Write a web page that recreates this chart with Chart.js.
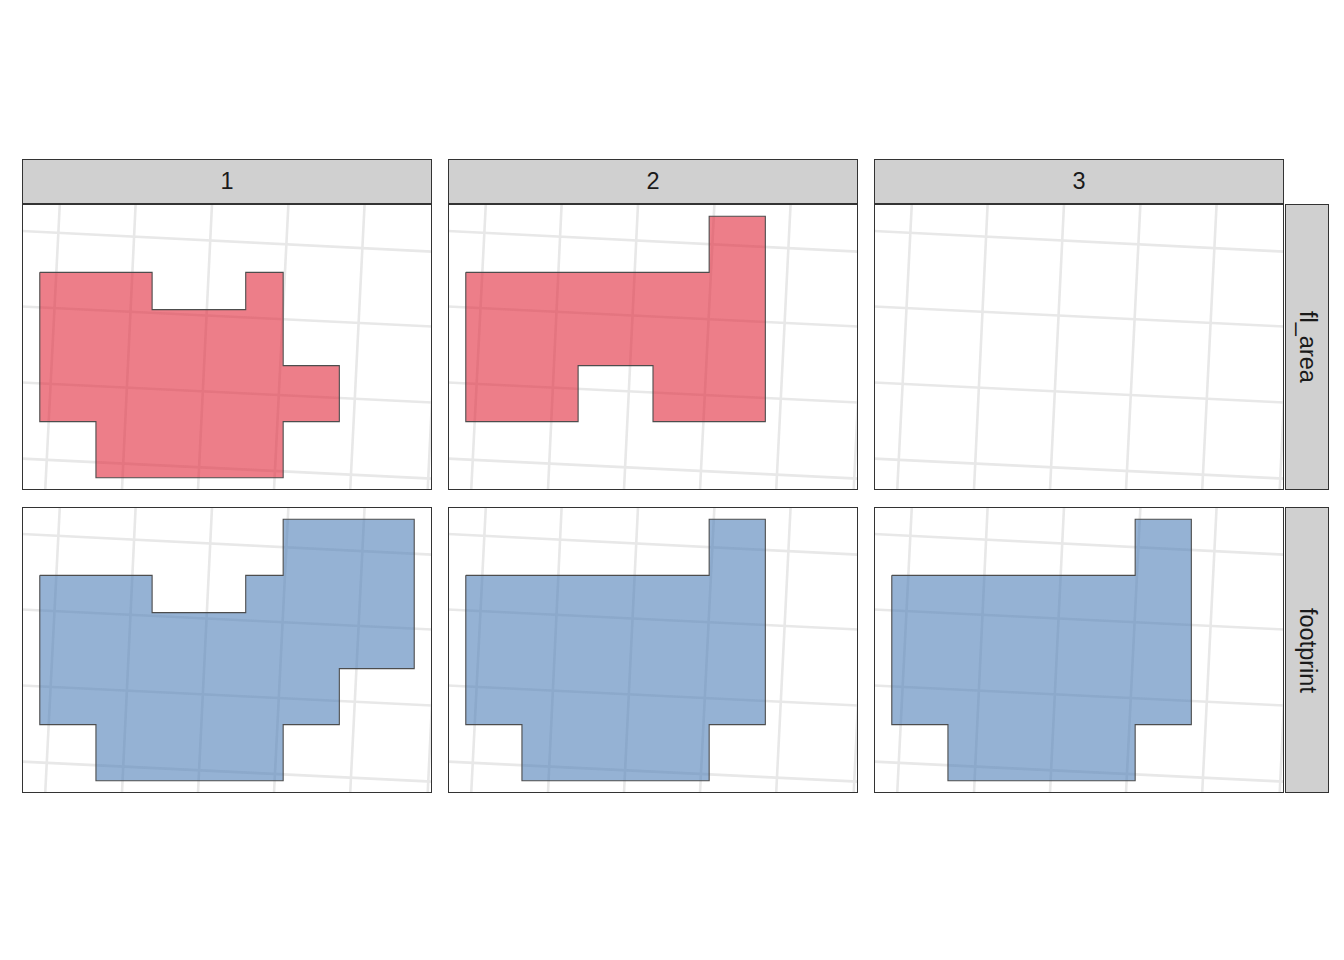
<!DOCTYPE html>
<html>
<head>
<meta charset="utf-8">
<script src="https://cdn.jsdelivr.net/npm/chart.js@4.4.0/dist/chart.umd.min.js"></script>
<style>
  html, body { margin: 0; padding: 0; background: #fff; }
  body { width: 1344px; height: 960px; position: relative; overflow: hidden; font-family: "Liberation Sans", Arial, sans-serif; }
  .strip { position: absolute; box-sizing: border-box; background: #d0d0d0; border: 1px solid #333; color: #1a1a1a; font-size: 23.5px; display: flex; align-items: center; justify-content: center; }
  .strip.row span { writing-mode: vertical-rl; }
  .panel { position: absolute; }
  .panel canvas { display: block; }
  .frame { position: absolute; left: 0; top: 0; right: 0; bottom: 0; border: 1px solid #333; pointer-events: none; }
</style>
</head>
<body>
<script>
const colLabels = ['1', '2', '3'];
const rowLabels = ['fl_area', 'footprint'];

// building outlines per facet (map units), empty = nothing drawn
const flArea1X = [0, 6, 6, 11, 11, 13, 13, 16, 16, 13, 13, 3, 3, 0, 0];
const flArea1Y = [11, 11, 9, 9, 11, 11, 6, 6, 3, 3, 0, 0, 3, 3, 11];
const flArea2X = [0, 13, 13, 16, 16, 10, 10, 6, 6, 0, 0];
const flArea2Y = [11, 11, 14, 14, 3, 3, 6, 6, 3, 3, 11];
const flArea3X = [];
const flArea3Y = [];
const footprint1X = [0, 6, 6, 11, 11, 13, 13, 20, 20, 16, 16, 13, 13, 3, 3, 0, 0];
const footprint1Y = [11, 11, 9, 9, 11, 11, 14, 14, 6, 6, 3, 3, 0, 0, 3, 3, 11];
const footprint2X = [0, 13, 13, 16, 16, 13, 13, 3, 3, 0, 0];
const footprint2Y = [11, 11, 14, 14, 3, 3, 0, 0, 3, 3, 11];
const footprint3X = [0, 13, 13, 16, 16, 13, 13, 3, 3, 0, 0];
const footprint3Y = [11, 11, 14, 14, 3, 3, 0, 0, 3, 3, 11];

// graticule, read where each line meets the panel edges
const meridianTopX = [1.07, 5.12, 9.2, 13.28, 17.35, 21.45];
const meridianBottomX = [0.29, 4.39, 8.45, 12.51, 16.58, 20.72];
const parallelLeftY = [13.21, 9.17, 5.1, 1.02];
const parallelRightY = [12.11, 8.1, 4.03, -0.05];

const xLimits = [-0.95, 20.95];
const yLimits = [-0.66, 14.66];

const shapes = [
  [[flArea1X, flArea1Y], [flArea2X, flArea2Y], [flArea3X, flArea3Y]],
  [[footprint1X, footprint1Y], [footprint2X, footprint2Y], [footprint3X, footprint3Y]]
];
const fills = ['rgba(225, 40, 58, 0.6)', 'rgba(78, 127, 183, 0.6)'];

const panelLeft = [22, 448, 874];
const panelTop = [204, 507];
const panelW = 410;
const panelH = 286;

function lineSet(points) {
  return {
    data: points,
    showLine: true,
    borderColor: '#e8e8e8',
    borderWidth: 2.6,
    pointRadius: 0,
    fill: false,
    order: 2
  };
}

function gridDatasets() {
  const sets = [];
  meridianTopX.forEach((xt, i) => {
    sets.push(lineSet([{ x: xt, y: yLimits[1] }, { x: meridianBottomX[i], y: yLimits[0] }]));
  });
  parallelLeftY.forEach((yl, i) => {
    sets.push(lineSet([{ x: xLimits[0], y: yl }, { x: xLimits[1], y: parallelRightY[i] }]));
  });
  return sets;
}

function makeStrip(cls, text, left, top, w, h) {
  const d = document.createElement('div');
  d.className = 'strip ' + cls;
  d.style.left = left + 'px';
  d.style.top = top + 'px';
  d.style.width = w + 'px';
  d.style.height = h + 'px';
  const s = document.createElement('span');
  s.textContent = text;
  d.appendChild(s);
  document.body.appendChild(d);
}

colLabels.forEach((lab, c) => makeStrip('col', lab, panelLeft[c], 159, panelW, 45));
rowLabels.forEach((lab, r) => makeStrip('row', lab, 1285, panelTop[r], 44, panelH));

rowLabels.forEach((rowLab, r) => {
  colLabels.forEach((colLab, c) => {
    const wrap = document.createElement('div');
    wrap.className = 'panel';
    wrap.style.left = panelLeft[c] + 'px';
    wrap.style.top = panelTop[r] + 'px';
    wrap.style.width = panelW + 'px';
    wrap.style.height = panelH + 'px';
    const canvas = document.createElement('canvas');
    wrap.appendChild(canvas);
    const frame = document.createElement('div');
    frame.className = 'frame';
    wrap.appendChild(frame);
    document.body.appendChild(wrap);

    const datasets = gridDatasets();
    const [xs, ys] = shapes[r][c];
    if (xs.length) {
      datasets.push({
        data: xs.map((x, i) => ({ x: x, y: ys[i] })),
        showLine: true,
        fill: 'shape',
        backgroundColor: fills[r],
        borderColor: '#4d4d4d',
        borderWidth: 1.1,
        borderJoinStyle: 'miter',
        pointRadius: 0,
        tension: 0,
        order: 1
      });
    }

    new Chart(canvas.getContext('2d'), {
      type: 'scatter',
      data: { datasets: datasets },
      options: {
        responsive: true,
        maintainAspectRatio: false,
        animation: false,
        events: [],
        layout: { padding: 0 },
        plugins: { legend: { display: false }, tooltip: { enabled: false } },
        scales: {
          x: { type: 'linear', display: false, min: xLimits[0], max: xLimits[1] },
          y: { type: 'linear', display: false, min: yLimits[0], max: yLimits[1] }
        }
      }
    });
  });
});
</script>
</body>
</html>
